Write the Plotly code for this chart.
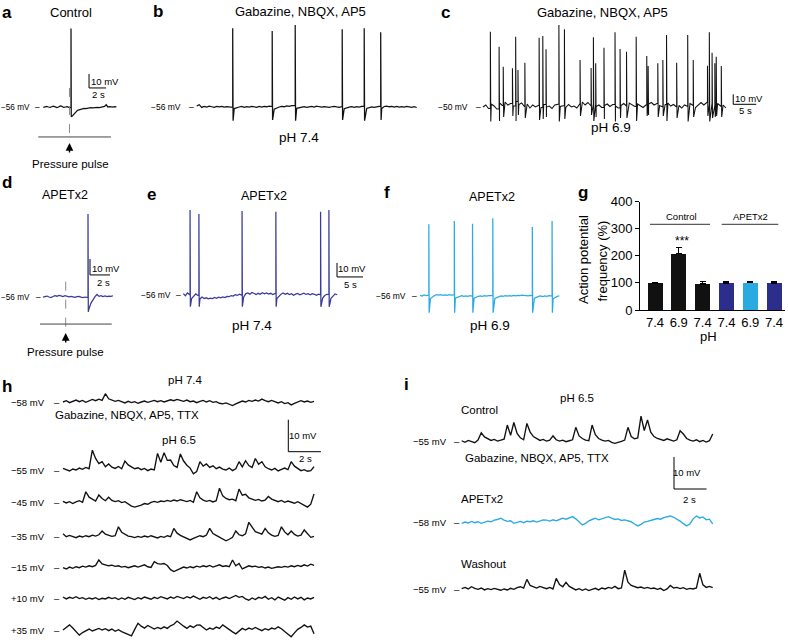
import plotly.graph_objects as go

W, H = 788, 640
FONT = "Liberation Sans, Arial, Helvetica, sans-serif"
BLACK = "#111111"
NAVY_TRACE = "#3a3a9c"
CYAN = "#29abe2"
NAVY_BAR = "#2c2e8c"

# ---------------- data ----------------
# panel a (Control, pressure pulse) absolute mV, dt 0.2 s
A_BASE = [-56.2, -56.0, -55.6, -56.0, -56.3, -55.8, -55.4, -55.9, -56.4, -56.0, -55.2, -55.6, -56.3, -56.0, -55.8, -56.2, -56.5,
          -62.5, -61.0, -59.5, -58.5, -58.0, -57.6, -57.4, -57.0, -57.2, -56.8, -56.9, -56.5, -56.7, -56.4, -56.6, -56.2,
          -56.5, -56.3, -56.0, -55.6, -54.4, -56.0, -55.8, -56.0, -56.1, -55.7, -55.9]
A_SPIKE_T = [3.26]
A_SPIKE_PEAK = [0.0]
A_SPIKE_TROUGH = [-63.0]
A_PULSE_T = 3.08

# panel b (pH 7.4) deviation from -56 mV, dt 0.5 s
B_BASE = [0.8, 1.8, -0.3, 0.5, 0.0, 0.6, 0.2, -0.2, 0.4, 0.1,
          0.5, -0.1, 0.3, 0.0, -0.3, -1.2, -0.4, 0.0, 0.4, -0.2,
          0.3, 0.0, 0.5, 0.1, -0.2, 0.4, 0.0, 0.5, 0.2, 0.6,
          0.3, -1.6, -0.6, 0.0, 0.5, 0.2, 0.8, 0.5, 1.0, 1.2,
          -1.0, -0.4, -0.1, 0.3, -0.2, 0.1, 0.4, 0.0, 0.6, 0.2,
          -0.1, 0.3, 0.0, -0.3, 0.2, 0.5, 0.1, -0.2, 0.3, -1.3,
          -0.5, -0.1, 0.3, -0.2, 0.2, 0.0, 0.4, 0.6, -1.1, -0.3,
          0.1, -0.2, 0.3, 0.5, -1.2, 0.4, 0.6, 0.2, 0.5, 0.0,
          0.4, -0.1, 0.3, 0.0, 0.5, 0.1, -0.2, 0.2, -0.4]
B_SPIKE_T = [7.2, 15.1, 19.7, 29.1, 33.5, 36.8]
B_SPIKE_PEAK = [4.5, 2.5, 7.1, 3.8, 4.5, 1.5]
B_SPIKE_TROUGH = [-66.5, -66.0, -66.5, -66.0, -66.5, -66.0]

# panel c (pH 6.9) deviation from -50 mV, dt 0.6 s
C_BASE = [0.0, 2.0, -1.5, 3.0, 1.0, -2.0, 4.0, 1.5, 5.0, 2.0,
          3.5, 1.0, 5.5, 2.5, 4.0, 0.5, 3.0, -1.0, 2.0, 0.0,
          1.5, -0.5, 2.5, 0.0, 1.0, -1.5, 2.0, 3.0, 0.5, 1.5,
          -0.5, 2.5, 0.0, 1.0, -1.0, 3.5, 5.0, 2.0, 4.5, 1.0,
          3.0, 0.5, 2.0, -0.5, 1.5, 3.0, 0.5, 2.5, 1.0, -1.0,
          1.5, 3.5, 1.0, 4.0, 2.0, 0.5, 3.0, 1.0, -0.5, 2.0,
          3.0, 4.5, 2.0, 3.5, 1.5, 0.0, 2.5, 4.0, 1.0, 2.5,
          0.0, 1.5, -1.0, 2.0, 0.5, 3.5, 1.5, -0.5, 2.5, 4.5,
          2.0, 5.0, 3.0, 4.0, 1.5, 3.5, 0.5, 2.0, -1.0]
C_SPIKE_T = [1.6, 3.5, 4.4, 6.4, 7.1, 7.6, 9.1, 12.2, 13.0, 13.7, 16.5, 17.7, 21.1, 23.5, 24.0, 24.5, 26.3,
             28.7, 29.8, 31.2, 33.3, 35.6, 35.9, 38.0, 39.1, 39.9, 42.1, 44.5, 45.7, 48.8, 49.2, 49.8, 50.4,
             50.7, 51.8]
C_SPIKE_PEAK = [25.3, 10.3, -9.7, -11.3, 20.3, -13.0, -5.7, 19.3, 21.0, 7.7, 32.0, 27.7, -3.0, -11.0, 19.7,
                -6.3, 9.3, 24.7, 8.0, 5.3, 20.3, 1.0, -9.0, -6.3, -3.0, 22.0, -5.7, 22.0, -3.0, -8.7, 24.7,
                4.3, -6.3, 0.3, -9.0]
C_SPIKE_TROUGH = [-64.5, -64, -60, -59, -64, -58, -61, -63, -62, -60, -64.5, -62, -59, -58, -64, -60, -62,
                  -64.5, -61, -61, -64, -59, -58, -60, -59, -64, -61, -64.5, -60, -59, -64.5, -61, -60,
                  -59, -60]

# panel d (APETx2, pressure pulse) absolute mV, dt 0.2 s
D_BASE = [-56.3, -56.0, -55.6, -56.2, -56.5, -55.9, -55.3, -55.7, -55.2, -55.5, -55.9, -55.4, -55.6, -56.1,
          -55.8, -56.2, -56.4, -56.0, -55.8, -56.3, -56.6, -56.2, -56.5,
          -63.5, -60.0, -57.5, -56.0, -54.6, -55.8, -55.3, -55.9, -55.5, -56.0, -55.6, -55.8, -55.4]
D_SPIKE_T = [4.5]
D_SPIKE_PEAK = [-4.3]
D_SPIKE_TROUGH = [-65.4]
D_PULSE_T = 2.27

# panel e (APETx2, pH 7.4) deviation from -56 mV, dt 0.4 s
E_BASE = [1.0, -0.5, 1.5, 0.0, -2.5, -0.5, 0.8, -0.3, -2.8, -1.5,
          -2.5, -2.0, -2.8, -2.2, -2.6, -1.8, -2.3, -1.6, -2.0, -1.4,
          -1.8, -1.0, -1.2, -0.4, -0.8, 0.2, -0.3, 0.6, 0.0, -1.5,
          0.8, 1.4, 0.6, 1.8, 1.0, 0.4, 1.2, 0.5, 1.6, 0.8,
          1.4, 0.6, 1.2, 0.3, 0.9, -2.5, -0.8, 0.6, 1.4, 0.5,
          1.2, 0.3, 0.9, -0.2, 0.6, 1.1, 0.2, 0.8, 1.3, 0.4,
          0.9, 0.2, 1.0, 0.5, -0.2, 0.6, 0.1, -2.2, -0.4, 0.5,
          0.3, -2.4, -0.6, 0.8, 0.2]
E_SPIKE_T = [1.3, 3.0, 11.3, 17.8, 26.4, 28.0]
E_SPIKE_PEAK = [4.7, 1.9, 4.0, 3.5, 3.5, 4.7]
E_SPIKE_TROUGH = [-64.4, -64.4, -64.4, -64.4, -64.4, -64.4]

# panel f (APETx2, pH 6.9) deviation from -56 mV, dt 0.4 s
F_BASE = [0.5, 0.0, 0.8, 0.3, 0.6, -1.8, -0.6, 0.4, 1.0, 0.6,
          0.9, 0.4, 0.8, 0.5, 1.0, 0.6, 0.8, -1.5, -0.8, -0.2,
          0.2, -0.3, 0.1, -0.2, 0.3, 0.0, -1.6, -0.7, -0.2, 0.1,
          -0.3, 0.2, -0.1, 0.3, 0.0, 0.2, -1.8, -0.9, -0.4, 0.0,
          -0.2, 0.2, -0.1, 0.3, 0.0, 0.4, 0.1, 0.5, 0.2, 0.6,
          0.3, 0.5, 0.1, 0.4, 0.2, -1.6, -0.8, -0.3, 0.0, -0.4,
          0.1, -0.2, 0.3, 0.0, -2.0, -1.0, -0.3, 0.2]
F_SPIKE_T = [1.7, 6.6, 10.1, 14.0, 21.6, 25.4]
F_SPIKE_PEAK = [-4.8, -2.4, -4.4, -0.5, -6.7, -2.4]
F_SPIKE_TROUGH = [-67.9, -67.9, -67.9, -67.9, -67.9, -67.9]

# panel g (bar chart)
G_LABELS = ["7.4", "6.9", "7.4", "7.4", "6.9", "7.4"]
G_VALUES = [100, 208, 96, 100, 101, 100]
G_ERRORS = [3, 22, 9, 6, 4, 5]
G_COLORS = [BLACK, BLACK, BLACK, NAVY_BAR, CYAN, NAVY_BAR]

# panel h: deviations from holding potential, dt 0.2 s
H_HOLD_MV = [-58, -55, -45, -35, -15, 10, 35]
H_LABELS = ["\u221258 mV", "\u221255 mV", "\u221245 mV", "\u221235 mV", "\u221215 mV", "+10 mV", "+35 mV"]
H_PH74 = [0.0, 0.4, -0.2, 0.3, 0.6, 0.1, 0.5, -0.1, 0.3, 0.8,
          0.4, 0.9, 0.5, 2.6, 1.0, 0.6, 0.2, 0.5, 0.0, -0.3,
          0.2, -0.2, 0.1, -0.4, 0.0, 0.3, -0.1, 0.2, 0.5, 0.1,
          0.4, 0.0, 0.3, 0.7, 0.4, 0.8, 0.5, 0.2, 0.6, 0.1,
          0.3, -0.2, 0.2, 0.5, 0.0, 0.4, -0.1, 0.1, -0.4, -0.6,
          -0.3, -0.8, -1.1, -0.6, -0.2, 0.3, 0.0, 0.5, 0.2, 0.6,
          0.3, 0.9, 0.4, 0.1, 0.5, 0.0, -0.3, 0.1, -0.5, -0.2,
          -0.9, -0.4, 0.1, 0.4, 0.0, 0.3, -0.1, 0.2]
H_M55 = [0.5, 0.0, -0.3, 0.3, 0.0, 0.6, 0.2, 0.8, 0.4, 6.2,
         3.6, 2.0, 2.6, 1.0, 1.9, 0.9, 0.5, 1.1, 0.4, 2.8,
         1.6, 1.0, 0.4, 0.7, 0.1, 0.5, -0.2, 0.3, 0.0, 5.2,
         2.4, 5.4, 3.0, 3.1, 1.4, 0.8, 5.0, 2.8, 1.5, 0.6,
         -1.2, -0.5, 2.6, 1.2, 1.9, 0.8, 1.3, 0.4, 0.9, 0.3,
         0.0, 0.6, -0.2, 0.4, 2.6, 1.0, 2.9, 1.4, 0.8, 3.6,
         1.8, 2.6, 1.0, 0.4, 0.0, 0.5, -0.3, 0.2, 0.6, 0.1,
         2.6, 1.2, 0.5, -0.2, 0.1, -0.4, -0.2, 1.0]
H_M45 = [0.3, -0.2, 0.2, -0.4, 0.1, 0.5, 0.0, 3.3, 1.6, 0.9,
         0.4, 2.3, 1.2, 0.5, 1.6, 0.6, 0.2, 0.5, -0.1, 0.2,
         -0.6, -1.2, -1.5, -1.3, -0.9, -0.4, -0.6, 0.0, 0.3, 0.0,
         0.4, 0.2, 0.6, 0.3, 0.7, 0.4, 0.8, 0.5, 0.2, 0.6,
         0.0, 3.3, 1.4, 0.7, 0.3, 0.6, 0.1, 0.5, 4.4, 2.0,
         1.2, 0.8, 1.0, 0.5, 4.1, 2.2, 2.5, 1.4, 1.0, 0.6,
         0.9, 0.4, 0.7, 1.8, 1.0, 0.5, 0.2, 0.6, 0.0, 0.4,
         0.1, -0.3, 0.2, -0.4, -0.8, -1.5, -0.6, 2.6]
H_M35 = [0.9, 0.0, 0.4, 0.1, -0.3, 0.2, -0.1, 0.3, 0.0, 0.5,
         0.2, 0.6, 1.8, 0.8, 0.4, 0.1, 0.3, 3.1, 1.4, 0.7,
         0.2, 0.0, -0.3, 0.1, -0.2, 0.2, -0.1, 0.3, 0.0, -0.4,
         0.1, -0.2, 0.3, 0.0, 2.6, 1.1, 0.4, 0.0, -0.6, -1.0,
         -0.5, -0.1, 0.3, 0.0, 0.5, 2.6, 1.0, 0.4, -0.2, -0.6,
         -1.3, -0.8, -0.2, 1.8, 0.6, 0.3, 0.9, 4.5, 3.0, 1.6,
         1.2, 0.8, 2.6, 1.2, 0.5, 0.1, 0.4, 3.1, 1.5, 0.6,
         1.8, 0.7, 0.2, 0.5, 2.1, 0.8, -0.2, 0.1]
H_M15 = [0.0, -0.4, 0.2, -0.2, 0.3, 0.0, 0.5, 0.2, 0.6, 0.3,
         0.7, 2.4, 1.2, 1.0, 0.6, 0.8, 0.4, 0.6, 0.2, 0.4,
         0.0, 0.3, 0.6, 0.2, 0.5, 0.9, 0.3, 0.1, 1.9, 1.3,
         1.1, 1.3, 0.7, -0.6, -1.2, -0.7, -0.2, 0.2, -0.1, 0.3,
         0.0, 0.5, 0.2, 0.6, 0.3, 0.7, 0.2, 0.5, 0.9, 0.4,
         0.6, 0.3, 2.4, 0.6, 1.3, -0.4, 0.2, 0.6, 0.3, 0.5,
         0.1, 0.3, -0.1, 0.2, -0.2, 0.0, 0.3, 0.1, 0.4, 0.2,
         0.6, 0.3, 0.7, 0.4, 0.9, 0.5, 1.1, 0.7]
H_P10 = [0.4, -0.2, 0.3, 0.0, 0.5, -0.1, 0.2, -0.3, 0.1, -0.2,
         0.2, -0.4, 0.0, -0.2, 0.3, -0.1, 0.2, -0.4, 0.1, -0.3,
         0.3, 0.0, -0.4, 0.2, -0.2, 0.4, 0.0, -0.3, 0.3, -0.1,
         0.5, 0.1, -0.2, 0.4, 0.0, 0.6, 0.2, -0.1, 0.5, 0.1,
         0.7, 0.2, -0.3, 0.3, 0.0, 0.5, -0.2, 0.3, -0.4, 0.1,
         0.4, -0.1, 0.3, 0.9, 0.3, 0.6, -0.2, -0.6, 0.1, -0.4,
         0.3, 0.0, 0.6, -0.3, 0.2, -0.5, 0.4, 0.0, -0.6, 0.2,
         -0.3, 0.4, -0.2, 0.3, -0.5, 0.1, -0.2, 0.3]
H_P35 = [0.0, 0.8, 1.6, 0.6, -0.5, -1.6, -0.8, -0.2, 0.3, -0.3,
         0.2, 0.5, 0.0, 0.4, -0.2, 0.3, -0.4, 0.1, -0.5, -1.0,
         -1.4, -1.8, 0.2, 2.1, 1.2, 0.6, 1.4, 0.9, 0.3, 0.8,
         0.4, 1.0, 0.5, 1.3, 1.8, 2.8, 1.9, 1.2, 0.5, 1.3,
         0.8, 1.5, 1.6, 0.9, 0.0, 0.6, 0.2, 0.9, 0.5, 1.6,
         0.8, 0.2, -0.6, -1.2, -0.3, 0.5, 0.0, 0.6, 0.2, 0.8,
         0.3, -0.2, 0.4, 0.0, 0.6, 0.3, 1.0, 0.4, -0.5, -1.3,
         -2.1, -0.9, 0.2, 0.8, 1.6, 0.9, 1.2, -1.2]

# panel i: deviations from holding potential, dt 0.2 s
I_HOLD_MV = [-55, -58, -55]
I_LABELS = ["\u221255 mV", "\u221258 mV", "\u221255 mV"]
I_CONTROL = [0.3, -0.2, 0.4, 0.0, -0.3, 0.5, 2.8, 1.5, 0.9, 0.4,
             0.7, 0.2, 0.5, 0.8, 5.2, 2.0, 6.0, 2.6, 1.2, 0.6,
             5.7, 3.0, 1.6, 0.9, 0.4, 0.7, 0.2, 0.5, 1.8, 0.6,
             0.2, 0.5, 0.0, 0.3, 0.6, 4.5, 1.8, 1.0, 0.5, 0.3,
             5.2, 2.2, 1.0, 0.5, 0.2, 0.4, -0.2, -0.5, -0.3, 0.1,
             0.5, 4.5, 1.6, 0.9, 1.2, 8.0, 3.5, 6.8, 3.0, 1.6,
             1.0, 0.8, 0.4, 0.9, 0.5, 0.2, 0.6, 3.4, 2.4, 1.0,
             0.5, 0.2, 0.6, 0.0, 0.4, -0.1, 0.3, 2.4]
I_APETX2 = [-0.2, 0.2, -0.1, 0.4, 0.0, 0.3, -0.2, 0.2, 0.5, 0.3,
            0.8, 1.0, 1.4, 0.8, 0.4, 0.6, -0.2, 0.1, 0.4, 0.0,
            0.5, 0.3, 0.6, 0.2, 0.5, 0.9, 0.8, 0.5, 0.9, 0.6,
            1.0, 1.4, 1.1, 1.6, 1.9, 1.2, 0.2, -0.7, -0.2, 0.6,
            1.0, 1.4, 0.9, 1.3, 1.7, 1.9, 1.4, 1.0, 1.2, 0.7,
            0.9, 0.5, 0.3, -0.4, -1.0, -0.5, 0.2, 0.4, 0.6, 1.0,
            1.3, 1.1, 1.6, 1.8, 2.1, 1.7, 1.2, 0.5, -0.3, -1.0,
            -0.4, 1.2, 2.1, 1.5, 1.8, 0.9, 1.1, -0.4]
I_WASHOUT = [0.2, 0.6, 0.1, 0.8, 0.3, 0.0, 0.4, -0.2, 0.2, -0.1,
             0.3, 0.0, -0.3, 0.1, -0.2, 0.3, 0.0, 0.5, 0.8, 0.4,
             3.1, 1.2, 0.7, 0.4, 0.9, 0.5, 0.2, 0.6, 0.1, 3.4,
             1.5, 0.8, 2.2, 0.9, 0.4, -0.2, 0.2, -0.3, 0.1, -0.4,
             0.0, 0.3, -0.2, 0.4, 0.1, 0.6, 0.3, 0.9, 0.2, 0.4,
             6.0, 2.2, 1.2, 0.8, 0.5, 0.7, 0.3, 0.6, 0.2, 0.4,
             0.0, 0.3, -0.4, 0.1, 1.2, 0.4, 0.6, 0.2, 0.5, 0.0,
             0.3, 0.1, 0.4, 5.0, 1.4, 0.6, 0.9, 0.5]

# ---------------- helpers ----------------
fig = go.Figure()
layout = {}
shapes = []
anns = []
_n = [0]


def new_axes(box, x0px, ppx, y0px, y0val, ppy):
    _n[0] += 1
    n = _n[0]
    left, top, right, bottom = box
    s = "" if n == 1 else str(n)
    layout["xaxis" + s] = dict(domain=[left / W, right / W],
                               range=[(left - x0px) / ppx, (right - x0px) / ppx],
                               visible=False, fixedrange=True, anchor="y" + s)
    layout["yaxis" + s] = dict(domain=[1 - bottom / H, 1 - top / H],
                               range=[y0val - (bottom - y0px) / ppy, y0val + (y0px - top) / ppy],
                               visible=False, fixedrange=True, anchor="x" + s)
    return "x" + s, "y" + s


def build(base, dt, hold=0.0, spikes=(), peaks=(), troughs=()):
    xs, ys = [], []
    j = 0
    for k, v in enumerate(base):
        t = round(k * dt, 6)
        xs.append(t)
        ys.append(hold + v)
        while j < len(spikes) and spikes[j] < t + dt - 1e-9:
            ts = spikes[j]
            xs += [ts, ts, ts + 0.15 * dt]
            ys += [hold + v, peaks[j], troughs[j]]
            j += 1
    return xs, ys


def line_trace(xs, ys, xa, ya, color=BLACK, width=1.25):
    fig.add_trace(go.Scatter(x=xs, y=ys, mode="lines", xaxis=xa, yaxis=ya,
                             line=dict(color=color, width=width), hoverinfo="skip",
                             showlegend=False))


def txt(s, x, y, size=11, xanchor="center", bold=False, angle=0):
    if bold:
        s = "<b>" + s + "</b>"
    anns.append(dict(text=s, x=x / W, y=1 - y / H, xref="paper", yref="paper",
                     showarrow=False, xanchor=xanchor, yanchor="middle", textangle=angle,
                     font=dict(size=size, color="black", family=FONT)))


def mv_label(s, text_right, dash_x, y, size=8.5):
    txt(s, text_right, y, size=size, xanchor="right")
    txt("\u2013", dash_x, y, size=size)


def seg(xa, ya, x0, y0, x1, y1, color="black", width=1.0, dash=None):
    ln = dict(color=color, width=width)
    if dash:
        ln["dash"] = dash
    shapes.append(dict(type="line", xref=xa, yref=ya, x0=x0, y0=y0, x1=x1, y1=y1, line=ln))


def paper_seg(x0, y0, x1, y1, color="black", width=1.0):
    shapes.append(dict(type="line", xref="paper", yref="paper", x0=x0 / W, y0=1 - y0 / H,
                       x1=x1 / W, y1=1 - y1 / H, line=dict(color=color, width=width)))


def scale_bar(xa, ya, t, v, mv_len, s_len):
    seg(xa, ya, t, v, t, v + mv_len)
    seg(xa, ya, t, v, t + s_len, v)


def up_arrow(xa, ya, t, v):
    anns.append(dict(text="", x=t, y=v, xref=xa, yref=ya, showarrow=True, ax=0, ay=11,
                     arrowhead=2, arrowsize=1.1, arrowwidth=1.4, arrowcolor="black"))


# ---------------- panel a ----------------
xa, ya = new_axes((30, 20, 125, 150), 43.3, 8.5, 107, -56, 1.4)
xs, ys = build(A_BASE, 0.2, 0.0, A_SPIKE_T, A_SPIKE_PEAK, A_SPIKE_TROUGH)
seg(xa, ya, A_PULSE_T, -42.4, A_PULSE_T, -77.4, color="#8a8a8a", width=1, dash="dash")
line_trace(xs, ys, xa, ya)
seg(xa, ya, -0.59, -77.4, 7.96, -77.4, color="#444444", width=1)
up_arrow(xa, ya, A_PULSE_T, -81.7)
scale_bar(xa, ya, 5.38, -42.4, 10, 2)
txt("a", 7, 12, size=17, bold=True)
txt("Control", 71, 12, size=13)
mv_label("\u221256 mV", 32, 37, 107, size=8.2)
txt("10 mV", 105, 81, size=9.5)
txt("2 s", 99, 94.5, size=9.5)
txt("Pressure pulse", 70, 164, size=11.5)

# ---------------- panel b ----------------
xa, ya = new_axes((190, 20, 420, 130), 196.7, 5.0, 107, -56, 1.3)
xs, ys = build(B_BASE, 0.5, -56.0, B_SPIKE_T, B_SPIKE_PEAK, B_SPIKE_TROUGH)
line_trace(xs, ys, xa, ya)
txt("b", 158, 11, size=17, bold=True)
txt("Gabazine, NBQX, AP5", 300, 11, size=13)
mv_label("\u221256 mV", 183, 191, 107)
txt("pH 7.4", 299, 137, size=13.5)

# ---------------- panel c ----------------
xa, ya = new_axes((478, 20, 765, 130), 483, 4.6, 107, -50, 1.0)
xs, ys = build(C_BASE, 0.6, -50.0, C_SPIKE_T, C_SPIKE_PEAK, C_SPIKE_TROUGH)
line_trace(xs, ys, xa, ya, width=1.05)
scale_bar(xa, ya, 54.4, -47.3, 10, 5)
txt("c", 445, 12, size=17, bold=True)
txt("Gabazine, NBQX, AP5", 602, 12, size=13)
mv_label("\u221250 mV", 470, 478, 107)
txt("10 mV", 749, 99, size=9.5)
txt("5 s", 745, 110.5, size=9.5)
txt("pH 6.9", 611, 127, size=13.5)

# ---------------- panel d ----------------
xa, ya = new_axes((30, 205, 125, 340), 43, 10.0, 296.7, -56, 1.6)
xs, ys = build(D_BASE, 0.2, 0.0, D_SPIKE_T, D_SPIKE_PEAK, D_SPIKE_TROUGH)
seg(xa, ya, D_PULSE_T, -46.6, D_PULSE_T, -75.6, color="#8a8a8a", width=1, dash="dash")
line_trace(xs, ys, xa, ya, color=NAVY_TRACE)
seg(xa, ya, -0.3, -73.1, 6.87, -73.1, color="#444444", width=1)
up_arrow(xa, ya, D_PULSE_T, -78.7)
scale_bar(xa, ya, 4.7, -42.4, 10, 2)
txt("d", 7, 183, size=17, bold=True)
txt("APETx2", 65, 195, size=12.5)
mv_label("\u221256 mV", 32, 38, 297, size=8.2)
txt("10 mV", 106, 268, size=9.5)
txt("2 s", 103, 282, size=9.5)
txt("Pressure pulse", 65, 352, size=11.5)

# ---------------- panel e ----------------
xa, ya = new_axes((180, 200, 370, 320), 183.3, 5.2, 295, -56, 1.4)
xs, ys = build(E_BASE, 0.4, -56.0, E_SPIKE_T, E_SPIKE_PEAK, E_SPIKE_TROUGH)
line_trace(xs, ys, xa, ya, color=NAVY_TRACE)
scale_bar(xa, ya, (337 - 183.3) / 5.2, -43.1, 10, 5)
txt("e", 151, 194, size=17, bold=True)
txt("APETx2", 264, 196, size=12.5)
mv_label("\u221256 mV", 173, 178, 295)
txt("10 mV", 352, 268, size=9.5)
txt("5 s", 350, 284, size=9.5)
txt("pH 7.4", 252, 325, size=13.5)

# ---------------- panel f ----------------
xa, ya = new_axes((418, 200, 565, 320), 420, 5.2, 296, -56, 1.4)
xs, ys = build(F_BASE, 0.4, -56.0, F_SPIKE_T, F_SPIKE_PEAK, F_SPIKE_TROUGH)
line_trace(xs, ys, xa, ya, color=CYAN)
txt("f", 387, 193, size=17, bold=True)
txt("APETx2", 492, 197, size=12.5)
mv_label("\u221256 mV", 408, 414, 296)
txt("pH 6.9", 490, 325, size=13.5)

# ---------------- panel g (bars) ----------------
_n[0] += 1
gs = str(_n[0])
layout["xaxis" + gs] = dict(domain=[640 / W, 785 / W], range=[-0.63, 5.46], anchor="y" + gs,
                            showline=True, linecolor="black", linewidth=1, ticks="",
                            tickvals=list(range(len(G_LABELS))), ticktext=G_LABELS,
                            tickfont=dict(size=13, family=FONT, color="black"),
                            showgrid=False, zeroline=False, fixedrange=True, automargin=False)
layout["yaxis" + gs] = dict(domain=[1 - 310 / H, 1 - 201.7 / H], range=[0, 400], anchor="x" + gs,
                            showline=True, linecolor="black", linewidth=1, ticks="outside",
                            ticklen=4, tickcolor="black", tickvals=[0, 100, 200, 300, 400],
                            tickfont=dict(size=13, family=FONT, color="black"),
                            showgrid=False, zeroline=False, fixedrange=True, automargin=False)
fig.add_trace(go.Bar(x=list(range(len(G_VALUES))), y=G_VALUES, width=0.63,
                     marker=dict(color=G_COLORS, line=dict(width=0)),
                     error_y=dict(type="data", array=G_ERRORS, arrayminus=[0] * len(G_ERRORS),
                                  color="black", thickness=1.2, width=3),
                     xaxis="x" + gs, yaxis="y" + gs, hoverinfo="skip", showlegend=False))
txt("g", 583, 193, size=17, bold=True)
txt("Action potential", 583, 260, size=13, angle=-90)
txt("frequency (%)", 601.5, 261, size=13, angle=-90)
txt("pH", 708, 336, size=13)
txt("***", 681.7, 241, size=12)
txt("Control", 681.7, 216.5, size=9.5)
txt("APETx2", 750, 216.5, size=9.5)
paper_seg(650, 224.3, 710, 224.3, color="#333333", width=1)
paper_seg(721.7, 224.3, 778.3, 224.3, color="#333333", width=1)

# ---------------- panel h ----------------
H_ROWS = [H_PH74, H_M55, H_M45, H_M35, H_M15, H_P10, H_P35]
H_BASE_PX = [402, 470, 502.3, 536.7, 567.7, 598.3, 630]
PPX_HI, PPY_HI = 16.3, 3.2
for r, (vals, hold, lab, bpx) in enumerate(zip(H_ROWS, H_HOLD_MV, H_LABELS, H_BASE_PX)):
    top = 410 if r == 1 else bpx - 22
    xa, ya = new_axes((60, top, 330, bpx + 10), 63, PPX_HI, bpx, hold, PPY_HI)
    xs, ys = build(vals, 0.2, float(hold))
    line_trace(xs, ys, xa, ya, width=1.35)
    mv_label(lab, 47, 56.5, bpx, size=9.5)
    if r == 1:
        scale_bar(xa, ya, (288.3 - 63) / PPX_HI, hold + (470 - 451.7) / PPY_HI, 10, 2)
txt("h", 7, 386, size=17, bold=True)
txt("pH 7.4", 185, 380, size=11.5)
txt("Gabazine, NBQX, AP5, TTX", 127, 415, size=11.5)
txt("pH 6.5", 179, 440, size=11.5)
txt("10 mV", 303, 435, size=9.5)
txt("2 s", 305, 458, size=9.5)

# ---------------- panel i ----------------
I_ROWS = [I_CONTROL, I_APETX2, I_WASHOUT]
I_BASE_PX = [441.7, 522.7, 589.3]
I_COLORS = [BLACK, CYAN, BLACK]
I_BOXES = [(455, 405, 715, 495), (455, 500, 715, 540), (455, 560, 715, 605)]
for r, (vals, hold, lab, bpx, col, box) in enumerate(zip(I_ROWS, I_HOLD_MV, I_LABELS, I_BASE_PX, I_COLORS, I_BOXES)):
    xa, ya = new_axes(box, 461.7, PPX_HI, bpx, hold, PPY_HI)
    xs, ys = build(vals, 0.2, float(hold))
    line_trace(xs, ys, xa, ya, color=col, width=1.35)
    mv_label(lab, 449, 457, bpx, size=9.5)
    if r == 0:
        scale_bar(xa, ya, (674 - 461.7) / PPX_HI, hold - (489 - 441.7) / PPY_HI, 10, 2)
txt("i", 406, 384, size=17, bold=True)
txt("pH 6.5", 577, 398, size=11.5)
txt("Control", 459, 410, size=11.5, xanchor="left")
txt("Gabazine, NBQX, AP5, TTX", 462.5, 457.5, size=11.5, xanchor="left")
txt("APETx2", 459, 498.5, size=11.5, xanchor="left")
txt("Washout", 459, 563.5, size=11.5, xanchor="left")
txt("10 mV", 687, 472, size=9.5)
txt("2 s", 689, 499, size=9.5)

layout.update(dict(width=W, height=H, margin=dict(l=0, r=0, t=0, b=0, pad=0),
                   autosize=False,
                   paper_bgcolor="white", plot_bgcolor="white", showlegend=False,
                   font=dict(family=FONT, color="black"), shapes=shapes, annotations=anns,
                   bargap=0))
fig.update_layout(**layout)
fig.write_html("out.html", config={"responsive": False, "displayModeBar": False},
               post_script="document.body.style.margin='0px';document.body.style.padding='0px';"
                           "document.body.style.overflow='hidden';")
